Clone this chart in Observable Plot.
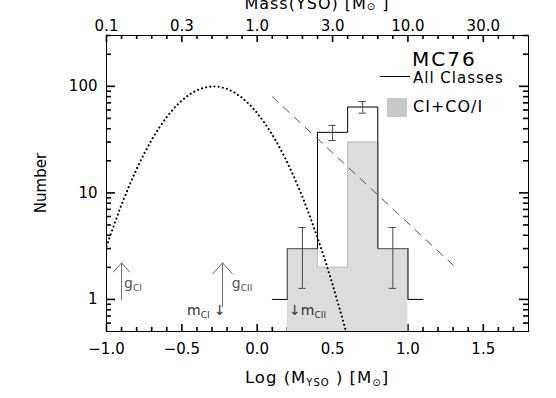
<!DOCTYPE html>
<html><head><meta charset="utf-8">
<script src="https://cdn.jsdelivr.net/npm/d3@7"></script>
<script src="https://cdn.jsdelivr.net/npm/@observablehq/plot@0.6"></script>
<style>body{margin:0;background:#fff;} svg{display:block;overflow:hidden;}</style>
</head><body><div id="chart"></div>
<script>
// ---- data ----
const binCenters = [0.1, 0.3, 0.5, 0.7, 0.9, 1.1];
const allClassCounts = [1, 3, 37, 64, 3, 1];
const ciCenters = [0.3, 0.5, 0.7, 0.9];
const ciCounts = [3, 2, 30, 3];
const binWidth = 0.2;
const errCenters = [0.3, 0.5, 0.7, 0.9];
const errLow = [1.27, 31, 56, 1.27];
const errHigh = [4.73, 43, 72, 4.73];
const imfX = [-1.0,-0.95,-0.9,-0.85,-0.8,-0.75,-0.7,-0.65,-0.6,-0.55,-0.5,-0.45,-0.4,-0.35,-0.3,-0.25,-0.2,-0.15,-0.1,-0.05,0,0.05,0.1,0.15,0.2,0.25,0.3,0.35,0.4,0.45,0.5,0.55,0.6];
const imfY = [3.15,5.0,7.8,11.6,16.8,23.4,31.6,41.1,51.7,62.9,73.9,83.9,92.0,97.5,99.9,98.9,94.6,87.4,78.1,67.4,56.2,45.2,35.2,26.5,19.3,13.5,9.2,6.0,3.8,2.34,1.38,0.79,0.44];
const slopeX = [0.1, 1.3];
const slopeY = [80, 2.1];
const xMajor = [-1, -0.5, 0, 0.5, 1, 1.5];
const xTickLabels = ["\u22121.0", "\u22120.5", "0.0", "0.5", "1.0", "1.5"];
const massTickLabels = ["0.1", "0.3", "1.0", "3.0", "10.0", "30.0"];
const xMinor = [-0.9,-0.8,-0.7,-0.6,-0.4,-0.3,-0.2,-0.1,0.1,0.2,0.3,0.4,0.6,0.7,0.8,0.9,1.1,1.2,1.3,1.4,1.6,1.7];
const yMajor = [1, 10, 100];
const yTickLabels = ["1", "10", "100"];
const yMinor = [0.6,0.7,0.8,0.9,2,3,4,5,6,7,8,9,20,30,40,50,60,70,80,90,200,300];
const upArrowX = [-0.9, -0.23];
const upArrowFrom = [1.0, 0.85];
const upArrowTo = [2.2, 2.2];
const gLabelX = [-0.88, -0.165];
const gLabelSub = ["CI", "CII"];
const mLabelX = [-0.205, 0.215];
const mLabelSub = ["CI", "CII"];
const gLabelY = 1.27;
const mLabelY = 0.71;
const yDomain = [0.5, 300];

// ---- layout ----
const W = 556, H = 398, mL = 106, mR = 28, mT = 35, mB = 67;
const innerW = W - mL - mR, innerH = H - mT - mB;

// ---- derived tables ----
function stepVertices(centers, counts, clipEnds) {
  const pts = [];
  centers.forEach((c, i) => {
    const l = (clipEnds && i === 0) ? c : c - binWidth / 2;
    const r = (clipEnds && i === centers.length - 1) ? c : c + binWidth / 2;
    pts.push({x: l, y: counts[i]}, {x: r, y: counts[i]});
  });
  return pts;
}
const allStep = stepVertices(binCenters, allClassCounts, true);
const ciStep = stepVertices(ciCenters, ciCounts, false);
const imf = imfX.map((x, i) => ({x, y: imfY[i]}));
const slope = slopeX.map((x, i) => ({x, y: slopeY[i]}));
const errs = errCenters.map((x, i) => ({x, lo: errLow[i], hi: errHigh[i]}));
const overlapH = [], overlapV = [];
binCenters.forEach((c, i) => {
  const j = ciCenters.indexOf(c);
  if (j >= 0 && ciCounts[j] === allClassCounts[i]) overlapH.push({x1: c - binWidth/2, x2: c + binWidth/2, y: allClassCounts[i]});
});
for (let i = 0; i < binCenters.length - 1; i++) {
  const b = binCenters[i] + binWidth / 2;
  const ja = ciCenters.indexOf(binCenters[i]), jb = ciCenters.indexOf(binCenters[i+1]);
  const ca = ja >= 0 ? ciCounts[ja] : yDomain[0], cb = jb >= 0 ? ciCounts[jb] : yDomain[0];
  const a0 = Math.min(allClassCounts[i], allClassCounts[i+1]), a1 = Math.max(allClassCounts[i], allClassCounts[i+1]);
  const c0 = Math.min(ca, cb), c1 = Math.max(ca, cb);
  const lo = Math.max(a0, c0), hi = Math.min(a1, c1);
  if (hi > lo) overlapV.push({x: b, y1: lo, y2: hi});
}
const arrows = upArrowX.map((x, i) => ({x, from: upArrowFrom[i], to: upArrowTo[i]}));

const chart = Plot.plot({
  width: W, height: H,
  marginLeft: mL, marginRight: mR, marginTop: mT, marginBottom: mB,
  style: {fontFamily: "DejaVu Sans", fontSize: "15px", background: "white", color: "black", overflow: "hidden"},
  x: {domain: [-1, 1.8], label: null},
  y: {type: "log", domain: yDomain, label: null},
  marks: [
    Plot.frame({stroke: "black", strokeWidth: 1}),
    Plot.axisX(xMajor, {anchor: "bottom", tickSize: 0, tickPadding: 12, tickFormat: d => xTickLabels[xMajor.indexOf(d)], label: null, fontSize: 15}),
    Plot.axisX(xMajor, {anchor: "top", tickSize: 0, tickPadding: 5, tickFormat: d => massTickLabels[xMajor.indexOf(d)], label: null, fontSize: 15}),
    Plot.axisY(yMajor, {anchor: "left", tickSize: 0, tickPadding: 9, tickFormat: d => yTickLabels[yMajor.indexOf(d)], label: null, fontSize: 15}),
    // inward ticks on all four sides
    Plot.tickX(xMajor, {x: d => d, insetTop: innerH - 7, stroke: "black", strokeWidth: 1.6}),
    Plot.tickX(xMinor, {x: d => d, insetTop: innerH - 4, stroke: "black", strokeWidth: 1.6}),
    Plot.tickX(xMajor, {x: d => d, insetBottom: innerH - 7, stroke: "black", strokeWidth: 1.6}),
    Plot.tickX(xMinor, {x: d => d, insetBottom: innerH - 4, stroke: "black", strokeWidth: 1.6}),
    Plot.tickY(yMajor, {y: d => d, insetRight: innerW - 9, stroke: "black", strokeWidth: 1.6}),
    Plot.tickY(yMinor, {y: d => d, insetRight: innerW - 5, stroke: "black", strokeWidth: 1.6}),
    Plot.tickY(yMajor, {y: d => d, insetLeft: innerW - 9, stroke: "black", strokeWidth: 1.6}),
    Plot.tickY(yMinor, {y: d => d, insetLeft: innerW - 5, stroke: "black", strokeWidth: 1.6}),
    // CI + CO/I filled histogram
    Plot.area(ciStep, {x1: "x", y1: () => yDomain[0], y2: "y", fill: "#dcdcdc", clip: true}),
    Plot.line(ciStep, {x: "x", y: "y", stroke: "#bdbdbd", strokeWidth: 1}),
    // all classes outline
    Plot.line(allStep, {x: "x", y: "y", stroke: "black", strokeWidth: 1}),
    Plot.ruleY(overlapH, {x1: "x1", x2: "x2", y: "y", stroke: "#6e6e6e", strokeWidth: 1}),
    Plot.ruleX(overlapV, {x: "x", y1: "y1", y2: "y2", stroke: "#6e6e6e", strokeWidth: 1}),
    // error bars
    Plot.ruleX(errs, {x: "x", y1: "lo", y2: "hi", stroke: "#4a4a4a"}),
    Plot.ruleY(errs, {x1: d => d.x - 0.024, x2: d => d.x + 0.024, y: "lo", stroke: "#4a4a4a"}),
    Plot.ruleY(errs, {x1: d => d.x - 0.024, x2: d => d.x + 0.024, y: "hi", stroke: "#4a4a4a"}),
    // IMF dotted curve
    Plot.line(imf, {x: "x", y: "y", stroke: "black", strokeWidth: 2.1, strokeDasharray: "0.01,4.2", strokeLinecap: "round", clip: true}),
    // Salpeter dashed
    Plot.line(slope, {x: "x", y: "y", stroke: "#555", strokeWidth: 1, strokeDasharray: "8,7"}),
    // limits arrows
    Plot.arrow(arrows, {x1: "x", x2: "x", y1: "from", y2: "to", stroke: "#6a6a6a", strokeWidth: 1, headAngle: 84, headLength: 22})
  ]
});
document.getElementById("chart").appendChild(chart);

const svg = d3.select(chart);
const sx = chart.scale("x"), sy = chart.scale("y");

// ---- text with subscripts ----
function richText(x, y, parts, {size = 15, anchor = "start", fill = "black", subSize = 9, subShift = 4, spacing = 0} = {}) {
  const t = svg.append("text").attr("x", x).attr("y", y).attr("text-anchor", anchor)
    .attr("font-family", "DejaVu Sans").attr("font-size", size).attr("fill", fill)
    .attr("letter-spacing", spacing);
  let shifted = 0;
  parts.forEach(([s, sub]) => {
    const want = sub ? subShift : 0;
    const ts = t.append("tspan").text(s).attr("dy", want - shifted);
    if (sub) ts.attr("font-size", subSize);
    shifted = want;
  });
  return t;
}
function plainText(x, y, s, size, spacing) {
  return svg.append("text").attr("x", x).attr("y", y).attr("text-anchor", "start")
    .attr("font-family", "DejaVu Sans").attr("font-size", size).attr("fill", "black")
    .attr("letter-spacing", spacing).text(s);
}
const cx = (sx.apply(-1) + sx.apply(1.8)) / 2;
richText(cx, 383, [["Log (M", 0], ["YSO", 1], [" ) [M", 0], ["\u2299", 1], ["]", 0]], {size: 16.5, anchor: "middle", subSize: 10, subShift: 3, spacing: 1});
richText(cx, 9, [["Mass(YSO) [M", 0], ["\u2299", 1], [" ]", 0]], {size: 16, anchor: "middle", subSize: 10, subShift: 1, spacing: 1});
svg.append("text").attr("transform", "translate(46,183) rotate(-90)").attr("text-anchor", "middle")
  .attr("font-family", "DejaVu Sans").attr("font-size", 15).text("Number");
gLabelX.forEach((x, i) => richText(sx.apply(x), sy.apply(gLabelY), [["g", 0], [gLabelSub[i], 1]], {size: 14, fill: "#555", subSize: 9, subShift: 3}));
richText(sx.apply(mLabelX[0]), sy.apply(mLabelY), [["m", 0], [mLabelSub[0], 1], [" \u2193", 0]], {size: 14, anchor: "end", fill: "#333", subSize: 9, subShift: 3});
richText(sx.apply(mLabelX[1]), sy.apply(mLabelY), [["\u2193m", 0], [mLabelSub[1], 1]], {size: 14, anchor: "start", fill: "#333", subSize: 9, subShift: 3});
// legend
plainText(412, 66, "MC76", 20, 2);
svg.append("line").attr("x1", 380).attr("x2", 410).attr("y1", 76.5).attr("y2", 76.5).attr("stroke", "black");
plainText(413, 83, "All Classes", 15, 1);
svg.append("rect").attr("x", 387).attr("y", 98).attr("width", 20).attr("height", 19).attr("fill", "#c8c8c8");
plainText(413, 112, "CI+CO/I", 16, 1);
</script></body></html>
